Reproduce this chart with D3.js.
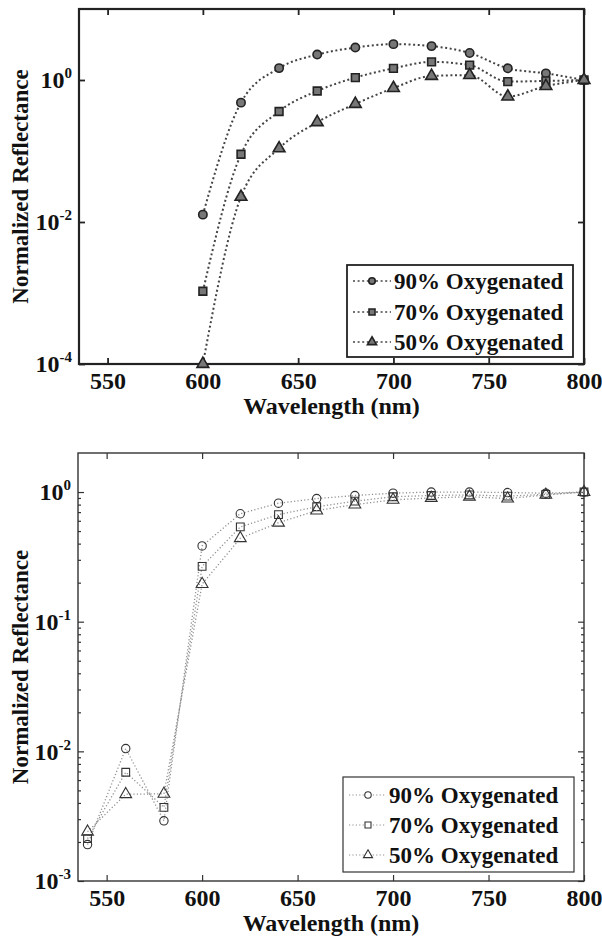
<!DOCTYPE html>
<html>
<head>
<meta charset="utf-8">
<script src="https://cdn.jsdelivr.net/npm/d3@7"></script>
<style>
	body { margin: 0; background: #fff; }
	svg text { font-weight: bold; fill: #111; }
</style>
</head>
<body>
<div id="chart"></div>
<script>
// ---- Data ----
var seriesNames = ["90% Oxygenated", "70% Oxygenated", "50% Oxygenated"];

// upper panel
var topWavelengths = [600, 620, 640, 660, 680, 700, 720, 740, 760, 780, 800];
var top90 = [0.0127, 0.48, 1.47, 2.28, 2.86, 3.2, 3.0, 2.4, 1.46, 1.24, 1.0];
var top70 = [0.00106, 0.09, 0.36, 0.70, 1.08, 1.46, 1.8, 1.62, 0.95, 0.97, 1.0];
var top50 = [0.0001, 0.0226, 0.109, 0.254, 0.46, 0.77, 1.14, 1.17, 0.585, 0.82, 1.0];
var topXTicks = [550, 600, 650, 700, 750, 800];
var topYTicks = [1e-4, 1e-2, 1e0];

// lower panel
var botWavelengths = [540, 560, 580, 600, 620, 640, 660, 680, 700, 720, 740, 760, 780, 800];
var bot90 = [0.00191, 0.0105, 0.00291, 0.384, 0.68, 0.82, 0.89, 0.94, 0.98, 1.0, 1.0, 0.99, 0.98, 1.0];
var bot70 = [0.00212, 0.0069, 0.0037, 0.267, 0.538, 0.67, 0.77, 0.85, 0.92, 0.94, 0.95, 0.93, 0.96, 1.0];
var bot50 = [0.0024, 0.00467, 0.0047, 0.195, 0.44, 0.58, 0.72, 0.80, 0.87, 0.90, 0.92, 0.89, 0.95, 1.0];
var botXTicks = [550, 600, 650, 700, 750, 800];
var botYTicks = [1e-3, 1e-2, 1e-1, 1e0];

var markerTypes = [d3.symbolCircle, d3.symbolSquare, d3.symbolTriangle];
var serif = "'Liberation Serif'";

var svg = d3.select("#chart").append("svg")
	.attr("width", 602)
	.attr("height", 937)
	.style("font-family", serif);

// draws one panel
function drawPanel(cfg) {
	var x = d3.scaleLinear().domain([535, 800]).range([cfg.left, cfg.right]);
	var y = d3.scaleLog().domain(cfg.yDomain).range([cfg.bottom, cfg.top]);
	var g = svg.append("g");

	// minor ticks (log 2..9)
	if (cfg.minor) {
		var minorVals = [];
		cfg.yTicks.forEach(function(t) {
			for (var m = 2; m <= 9; m++) {
				if (t * m < cfg.yDomain[1]) minorVals.push(t * m);
			}
		});
		[d3.axisLeft(y).tickSizeInner(-3), d3.axisRight(y).tickSizeInner(-3)].forEach(function(ax, i) {
			var a = g.append("g")
				.attr("transform", "translate(" + (i == 0 ? cfg.left : cfg.right) + ",0)")
				.call(ax.tickValues(minorVals).tickFormat("").tickSizeOuter(0));
			a.select(".domain").remove();
			a.selectAll("line").attr("stroke", cfg.axisColor).attr("stroke-width", cfg.tickWidth);
		});
	}

	// x axes
	var xb = g.append("g")
		.attr("transform", "translate(0," + cfg.bottom + ")")
		.call(d3.axisBottom(x).tickValues(cfg.xTicks).tickSizeInner(-cfg.tickLen).tickSizeOuter(0).tickPadding(cfg.xPad));
	var xt = g.append("g")
		.attr("transform", "translate(0," + cfg.top + ")")
		.call(d3.axisTop(x).tickValues(cfg.xTicks).tickSizeInner(-cfg.tickLen).tickSizeOuter(0).tickFormat(""));

	// y axes
	var yl = g.append("g")
		.attr("transform", "translate(" + cfg.left + ",0)")
		.call(d3.axisLeft(y).tickValues(cfg.yTicks).tickSizeInner(-cfg.tickLen).tickSizeOuter(0).tickPadding(7));
	var yr = g.append("g")
		.attr("transform", "translate(" + cfg.right + ",0)")
		.call(d3.axisRight(y).tickValues(cfg.yTicks).tickSizeInner(-cfg.tickLen).tickSizeOuter(0).tickFormat(""));

	[xb, xt, yl, yr].forEach(function(a) {
		a.attr("font-family", null).attr("font-size", null);
		a.select(".domain").remove();
		a.selectAll("line").attr("stroke", cfg.axisColor).attr("stroke-width", cfg.tickWidth);
		a.selectAll("text").style("font-family", serif).style("font-size", "24px").attr("fill", "#111");
	});

	// 10^n labels with superscript
	yl.selectAll(".tick text").each(function(d) {
		var t = d3.select(this).text("");
		t.append("tspan").text("10");
		t.append("tspan").attr("dy", "-10").style("font-size", "15px").text(Math.round(Math.log10(d)));
	});

	// frame
	g.append("rect")
		.attr("x", cfg.left).attr("y", cfg.top)
		.attr("width", cfg.right - cfg.left).attr("height", cfg.bottom - cfg.top)
		.attr("fill", "none").attr("stroke", cfg.axisColor).attr("stroke-width", cfg.frameWidth);

	// axis titles
	g.append("text")
		.attr("x", (cfg.left + cfg.right) / 2)
		.attr("y", cfg.xTitleY)
		.attr("text-anchor", "middle")
		.style("font-family", serif)
		.style("font-size", "24px")
		.text("Wavelength (nm)");
	g.append("text")
		.attr("transform", "translate(28," + (cfg.top + cfg.bottom) / 2 + ") rotate(-90)")
		.attr("text-anchor", "middle")
		.style("font-family", serif)
		.style("font-size", "23px")
		.text("Normalized Reflectance");

	// lines and markers
	var line = d3.line()
		.x(function(d) { return x(d[0]); })
		.y(function(d) { return y(d[1]); })
		.curve(cfg.curve);

	cfg.series.forEach(function(vals, i) {
		var pts = cfg.wavelengths.map(function(w, j) { return [w, vals[j]]; });
		g.append("path")
			.attr("d", line(pts))
			.attr("fill", "none")
			.attr("stroke", cfg.lineColor)
			.attr("stroke-width", cfg.lineWidth)
			.attr("stroke-dasharray", cfg.dash);
		g.selectAll(".m" + i)
			.data(pts)
			.enter().append("path")
			.attr("transform", function(d) { return "translate(" + x(d[0]) + "," + y(d[1]) + ")"; })
			.attr("d", d3.symbol().type(markerTypes[i]).size(cfg.markerSize[i]))
			.attr("fill", cfg.markerFill)
			.attr("stroke", cfg.markerStroke)
			.attr("stroke-width", cfg.markerStrokeWidth);
	});

	// legend
	var lg = cfg.legend;
	g.append("rect")
		.attr("x", lg.x).attr("y", lg.y)
		.attr("width", lg.w).attr("height", lg.h)
		.attr("fill", "#fff").attr("stroke", cfg.axisColor).attr("stroke-width", cfg.tickWidth);
	seriesNames.forEach(function(name, i) {
		var cy = lg.rows[i];
		g.append("line")
			.attr("x1", lg.x + 6).attr("x2", lg.textX - 3)
			.attr("y1", cy).attr("y2", cy)
			.attr("stroke", cfg.lineColor)
			.attr("stroke-width", cfg.lineWidth * 0.8)
			.attr("stroke-dasharray", cfg.dash);
		g.append("path")
			.attr("transform", "translate(" + lg.markX + "," + cy + ")")
			.attr("d", d3.symbol().type(markerTypes[i]).size(cfg.markerSize[i] * 0.6))
			.attr("fill", cfg.markerFill == "none" ? "#fff" : cfg.markerFill)
			.attr("stroke", cfg.markerStroke)
			.attr("stroke-width", cfg.markerStrokeWidth);
		g.append("text")
			.attr("x", lg.textX)
			.attr("y", cy + 8)
			.style("font-family", serif)
			.style("font-size", "23px")
			.text(name);
	});
}

// upper panel
drawPanel({
	left: 79, right: 584, top: 9, bottom: 364,
	yDomain: [1e-4, 10], yTicks: topYTicks, xTicks: topXTicks, minor: false,
	wavelengths: topWavelengths, series: [top90, top70, top50],
	curve: d3.curveMonotoneX,
	axisColor: "#222", tickWidth: 1.8, frameWidth: 2.2, tickLen: 6, xPad: 8, xTitleY: 414,
	lineColor: "#444", lineWidth: 2, dash: "2,2.6",
	markerFill: "#777", markerStroke: "#222", markerStrokeWidth: 1.6, markerSize: [55, 60, 60],
	legend: { x: 347, y: 265, w: 226, h: 92, rows: [281, 312, 342], markX: 372, textX: 394 }
});

// lower panel
drawPanel({
	left: 78, right: 584, top: 453, bottom: 881,
	yDomain: [1e-3, 2], yTicks: botYTicks, xTicks: botXTicks, minor: true,
	wavelengths: botWavelengths, series: [bot90, bot70, bot50],
	curve: d3.curveLinear,
	axisColor: "#333", tickWidth: 1.2, frameWidth: 1.4, tickLen: 6, xPad: 8, xTitleY: 931,
	lineColor: "#909090", lineWidth: 1.3, dash: "1.2,2.2",
	markerFill: "none", markerStroke: "#333", markerStrokeWidth: 1.1, markerSize: [55, 60, 60],
	legend: { x: 343, y: 777, w: 231, h: 95, rows: [795, 825, 855], markX: 368, textX: 389 }
});
</script>
</body>
</html>
